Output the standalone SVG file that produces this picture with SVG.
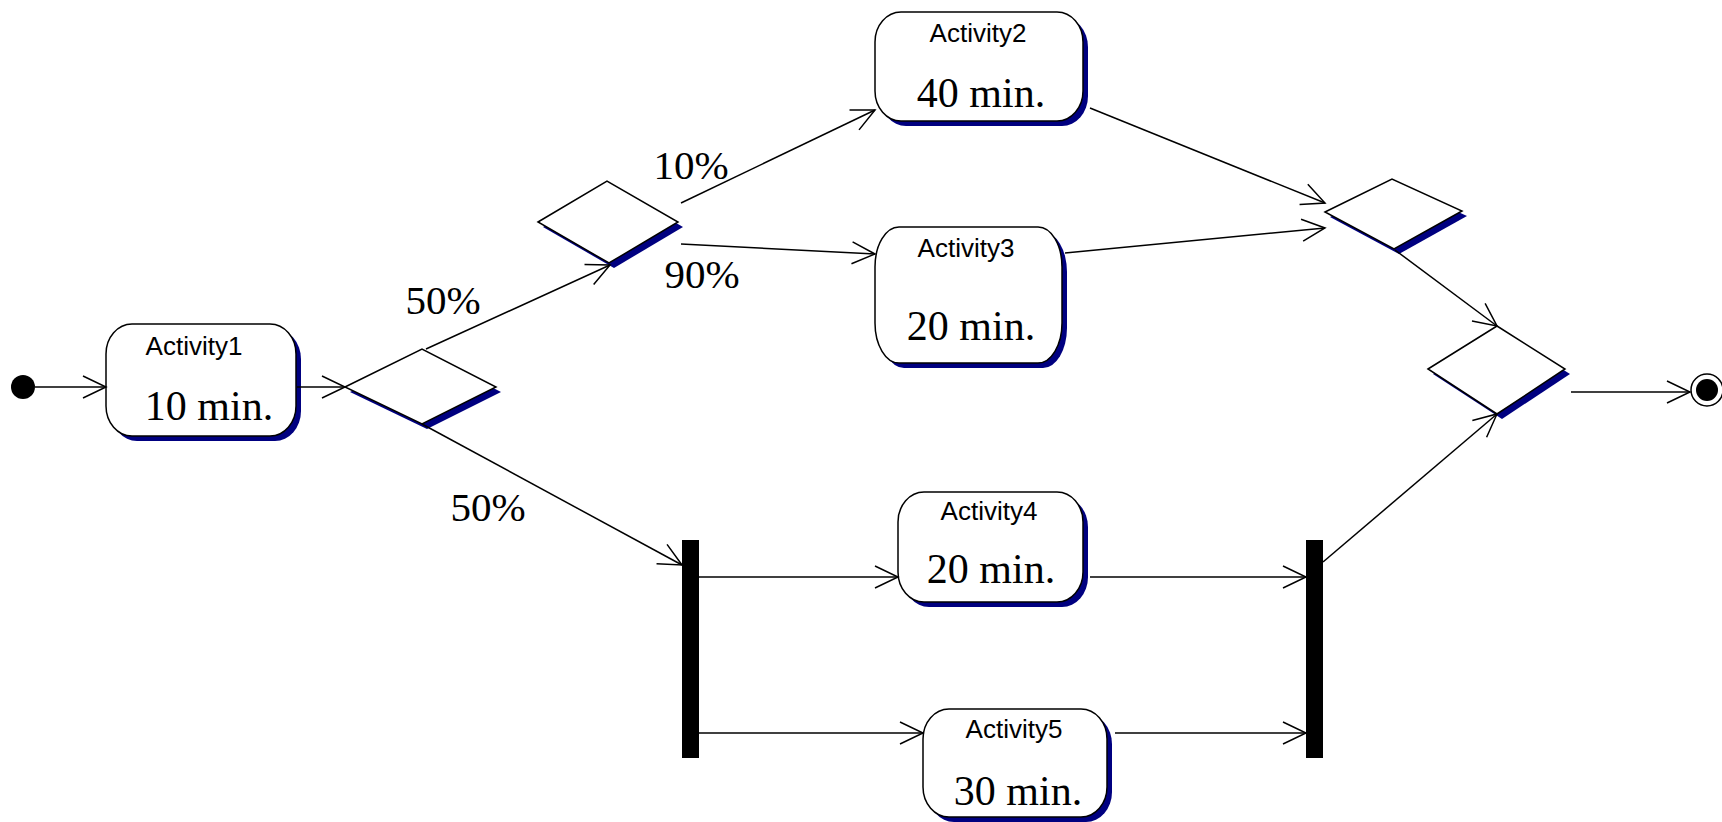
<svg xmlns="http://www.w3.org/2000/svg" width="1722" height="822" viewBox="0 0 1722 822">
<style>
.box{fill:#fff;stroke:#000;stroke-width:1.5}
.shadow{fill:#000080}
.dia{fill:#fff;stroke:#000;stroke-width:1.5}
.name{font-family:"Liberation Sans",Arial,sans-serif;font-size:26px;fill:#000;text-anchor:middle}
.dur{font-family:"Liberation Serif","Times New Roman",serif;font-size:42px;fill:#000;text-anchor:middle}
.lbl{font-family:"Liberation Serif","Times New Roman",serif;font-size:41px;fill:#000;text-anchor:middle}
.edge{fill:none;stroke:#000;stroke-width:1.5;marker-end:url(#arr)}
</style>
<defs>
<marker id="arr" markerUnits="userSpaceOnUse" markerWidth="30" markerHeight="30" viewBox="-25 -15 30 30" refX="0" refY="0" orient="auto">
<path d="M-23,-11 L0,0 L-23,11" fill="none" stroke="#000" stroke-width="1.5"/>
</marker>
</defs>
<rect width="1722" height="822" fill="#fff"/>

<g id="start"><circle cx="23" cy="387" r="12" fill="#000"/></g>

<g id="activity1">
<rect class="shadow" x="111" y="329" width="190" height="112" rx="26" ry="30"/>
<rect class="box" x="106" y="324" width="190" height="112" rx="26" ry="30"/>
<text class="name" x="194" y="355">Activity1</text>
<text class="dur" x="209" y="420">10 min.</text>
</g>

<g id="activity2">
<rect class="shadow" x="880" y="17" width="208" height="109" rx="26" ry="30"/>
<rect class="box" x="875" y="12" width="208" height="109" rx="26" ry="30"/>
<text class="name" x="978" y="42">Activity2</text>
<text class="dur" x="981" y="107">40 min.</text>
</g>

<g id="activity3">
<rect class="shadow" x="880" y="232" width="187" height="136" rx="24" ry="40"/>
<rect class="box" x="875" y="227" width="187" height="136" rx="24" ry="40"/>
<text class="name" x="966" y="257">Activity3</text>
<text class="dur" x="971" y="340">20 min.</text>
</g>

<g id="activity4">
<rect class="shadow" x="903" y="497" width="185" height="110" rx="26" ry="30"/>
<rect class="box" x="898" y="492" width="185" height="110" rx="26" ry="30"/>
<text class="name" x="989" y="520">Activity4</text>
<text class="dur" x="991" y="583">20 min.</text>
</g>

<g id="activity5">
<rect class="shadow" x="928" y="714" width="184" height="108" rx="26" ry="30"/>
<rect class="box" x="923" y="709" width="184" height="108" rx="26" ry="30"/>
<text class="name" x="1014" y="738">Activity5</text>
<text class="dur" x="1018" y="805">30 min.</text>
</g>

<g id="decision1">
<polygon class="shadow" points="350,392 427,354 501,392 427,429"/>
<polygon class="dia" points="345,387 422,349 496,387 422,424"/>
</g>
<g id="decision2">
<polygon class="shadow" points="543,227 612,186 683,227 614,268"/>
<polygon class="dia" points="538,222 607,181 678,222 609,263"/>
</g>
<g id="merge1">
<polygon class="shadow" points="1330,217 1397,184 1467,216 1399,254"/>
<polygon class="dia" points="1325,212 1392,179 1462,211 1394,249"/>
</g>
<g id="merge2">
<polygon class="shadow" points="1433,374 1502,331 1570,374 1502,419"/>
<polygon class="dia" points="1428,369 1497,326 1565,369 1497,414"/>
</g>

<g id="fork"><rect x="682" y="540" width="17" height="218" fill="#000"/></g>
<g id="join"><rect x="1306" y="540" width="17" height="218" fill="#000"/></g>

<g id="final">
<circle cx="1707" cy="390" r="16" fill="#fff" stroke="#000" stroke-width="1.5"/>
<circle cx="1707" cy="390" r="11" fill="#000"/>
</g>

<g id="connectors">
<line class="edge" x1="35" y1="387" x2="106" y2="387"/>
<line class="edge" x1="297" y1="387" x2="345" y2="387"/>
<line class="edge" x1="426" y1="349" x2="610" y2="265"/>
<line class="edge" x1="422" y1="424" x2="682" y2="565"/>
<line class="edge" x1="681" y1="203" x2="875" y2="110"/>
<line class="edge" x1="681" y1="244" x2="875" y2="254"/>
<line class="edge" x1="1090" y1="108" x2="1325" y2="203"/>
<line class="edge" x1="1065" y1="253" x2="1325" y2="228"/>
<line class="edge" x1="1395" y1="250" x2="1497" y2="326"/>
<line class="edge" x1="699" y1="577" x2="898" y2="577"/>
<line class="edge" x1="699" y1="733" x2="923" y2="733"/>
<line class="edge" x1="1090" y1="577" x2="1306" y2="577"/>
<line class="edge" x1="1115" y1="733" x2="1306" y2="733"/>
<line class="edge" x1="1323" y1="562" x2="1497" y2="414"/>
<line class="edge" x1="1571" y1="392" x2="1690" y2="392"/>
<text class="lbl" x="443" y="314">50%</text>
<text class="lbl" x="488" y="521">50%</text>
<text class="lbl" x="691" y="179">10%</text>
<text class="lbl" x="702" y="288">90%</text>
</g>
</svg>
